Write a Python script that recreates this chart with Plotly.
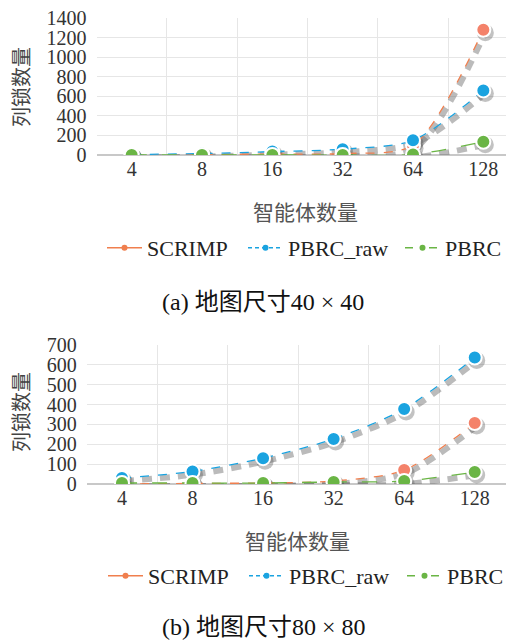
import plotly.graph_objects as go

agents = ["4", "8", "16", "32", "64", "128"]
series_names = ["SCRIMP", "PBRC_raw", "PBRC"]
colors = ["#F07F4E", "#1AA3E0", "#6AB545"]
marker_colors = ["#F4826A", "#1AA3E0", "#6AB545"]

# (a) map 40x40
a_scrimp = [0, 5, 10, 15, 100, 1280]
a_raw = [5, 15, 35, 60, 150, 660]
a_pbrc = [0, 0, 0, 0, 5, 135]
# (b) map 80x80
b_scrimp = [0, 3, 5, 15, 70, 307]
b_raw = [30, 63, 130, 227, 378, 637]
b_pbrc = [5, 5, 5, 10, 15, 60]

yticks_a = [0, 200, 400, 600, 800, 1000, 1200, 1400]
yticks_b = [0, 100, 200, 300, 400, 500, 600, 700]

OFF = 8  # page body margin
W, H = 514 - OFF, 640 - OFF
SERIF = "Liberation Serif, Noto Sans CJK SC, serif"
CJK = "Noto Sans CJK SC, sans-serif"

def PX(x):
    return (x - OFF) / W

def PY(y):
    return 1 - (y - OFF) / H

fig = go.Figure()

panels = [
    dict(data=[a_scrimp, a_raw, a_pbrc], xs="x", ys="y", xa="x3", ya="y3",
         xdom=[PX(96.5), 1.0], ydom=[PY(155), PY(18)], yr=[0, 1400], yt=yticks_a,
         xr=[-0.5, 5.436], legends=["legend", "legend2", "legend3"], pxh=137, pxw=70.3,
         leg_y=248, leg_x=[107, 248, 405]),
    dict(data=[b_scrimp, b_raw, b_pbrc], xs="x2", ys="y2", xa="x4", ya="y4",
         xdom=[PX(86.7), PX(510)], ydom=[PY(484), PY(345)], yr=[0, 700], yt=yticks_b,
         xr=[-0.5, 5.5], legends=["legend4", "legend5", "legend6"], pxh=139, pxw=70.6,
         leg_y=576, leg_x=[108, 249, 407]),
]

main_dash = ["dash", "dash", "longdash"]
leg_dash = ["solid", "4px,3px", "8px,7px,2px,7px"]

for p in panels:
    # shadows (base axes, drawn below)
    for vals in p["data"]:
        fig.add_trace(go.Scatter(
            x=agents, y=vals, xaxis=p["xs"], yaxis=p["ys"], mode="lines+markers",
            line=dict(color="rgba(105,105,105,0.45)", width=6, dash="10px,8px", shape="spline", smoothing=0.8),
            marker=dict(size=17, color="rgba(80,80,80,0.35)"),
            showlegend=False, hoverinfo="skip"))
    # main series (overlay axes, drawn above)
    for i, vals in enumerate(p["data"]):
        fig.add_trace(go.Scatter(
            x=agents, y=vals, xaxis=p["xa"], yaxis=p["ya"], mode="lines+markers",
            name=series_names[i],
            line=dict(color=colors[i], width=1.3, dash=main_dash[i], shape="spline", smoothing=0.8),
            marker=dict(size=14, color=marker_colors[i], line=dict(color="white", width=2)),
            showlegend=False))
    # legend entries
    for i in range(3):
        fig.add_trace(go.Scatter(
            x=[None], y=[None], xaxis=p["xa"], yaxis=p["ya"], mode="lines+markers",
            name=series_names[i], legend=p["legends"][i],
            line=dict(color=colors[i], width=1.5, dash=leg_dash[i]),
            marker=dict(size=6, color=colors[i])))

layout = dict(
    width=W, height=H, margin=dict(l=0, r=0, t=0, b=0),
    plot_bgcolor="white", paper_bgcolor="white", autosize=False,
)

for k, p in enumerate(panels):
    xsn = "xaxis" if k == 0 else "xaxis2"
    ysn = "yaxis" if k == 0 else "yaxis2"
    xan = "xaxis3" if k == 0 else "xaxis4"
    yan = "yaxis3" if k == 0 else "yaxis4"
    dy = 3 * (p["yr"][1] - p["yr"][0]) / p["pxh"]
    dx = 2 / p["pxw"]
    layout[xsn] = dict(type="category", domain=p["xdom"], anchor=p["ys"], visible=False,
                       automargin=False, range=[p["xr"][0] - dx, p["xr"][1] - dx],
                       categoryorder="array", categoryarray=agents)
    layout[ysn] = dict(domain=p["ydom"], anchor=p["xs"], visible=False, automargin=False,
                       range=[p["yr"][0] + dy, p["yr"][1] + dy])
    layout[xan] = dict(
        type="category", overlaying=p["xs"], anchor=p["ya"], range=p["xr"],
        categoryorder="array", categoryarray=agents, automargin=False,
        tickson="boundaries", showgrid=True, gridcolor="#E6E6E6", gridwidth=1,
        zeroline=False, showline=False, ticks="outside", ticklen=4, tickcolor="rgba(0,0,0,0)",
        ticklabeloverflow="allow",
        tickfont=dict(family=SERIF, size=20, color="#333"))
    layout[yan] = dict(
        overlaying=p["ys"], anchor=p["xa"], range=p["yr"], tickvals=p["yt"], automargin=False,
        showgrid=True, gridcolor="#E6E6E6", gridwidth=1, zeroline=True, zerolinecolor="#C8C8C8",
        zerolinewidth=2, showline=False, ticks="outside", ticklen=5, tickcolor="rgba(0,0,0,0)",
        ticklabeloverflow="allow",
        tickfont=dict(family=SERIF, size=20, color="#333"))
    for j, ln in enumerate(p["legends"]):
        layout[ln] = dict(orientation="h", x=PX(p["leg_x"][j] - 5), xanchor="left",
                          y=PY(p["leg_y"]), yanchor="middle", itemwidth=35,
                          font=dict(family=SERIF, size=22, color="#222"),
                          bgcolor="rgba(0,0,0,0)")

fig.update_layout(**layout)

ann = [
    dict(text="列锁数量", x=PX(20), y=PY(87), textangle=-90, font=dict(family=CJK, size=20, color="#444")),
    dict(text="智能体数量", x=PX(305), y=PY(211), font=dict(family=CJK, size=21, color="#555")),
    dict(text="(a) 地图尺寸40 × 40", x=PX(263), y=PY(302), font=dict(family=SERIF, size=24, color="#111")),
    dict(text="列锁数量", x=PX(20), y=PY(412), textangle=-90, font=dict(family=CJK, size=20, color="#444")),
    dict(text="智能体数量", x=PX(297), y=PY(540), font=dict(family=CJK, size=21, color="#555")),
    dict(text="(b) 地图尺寸80 × 80", x=PX(264), y=PY(627), font=dict(family=SERIF, size=24, color="#111")),
]
for a in ann:
    fig.add_annotation(xref="paper", yref="paper", showarrow=False, xanchor="center", yanchor="middle", **a)

fig.write_html("out.html")
